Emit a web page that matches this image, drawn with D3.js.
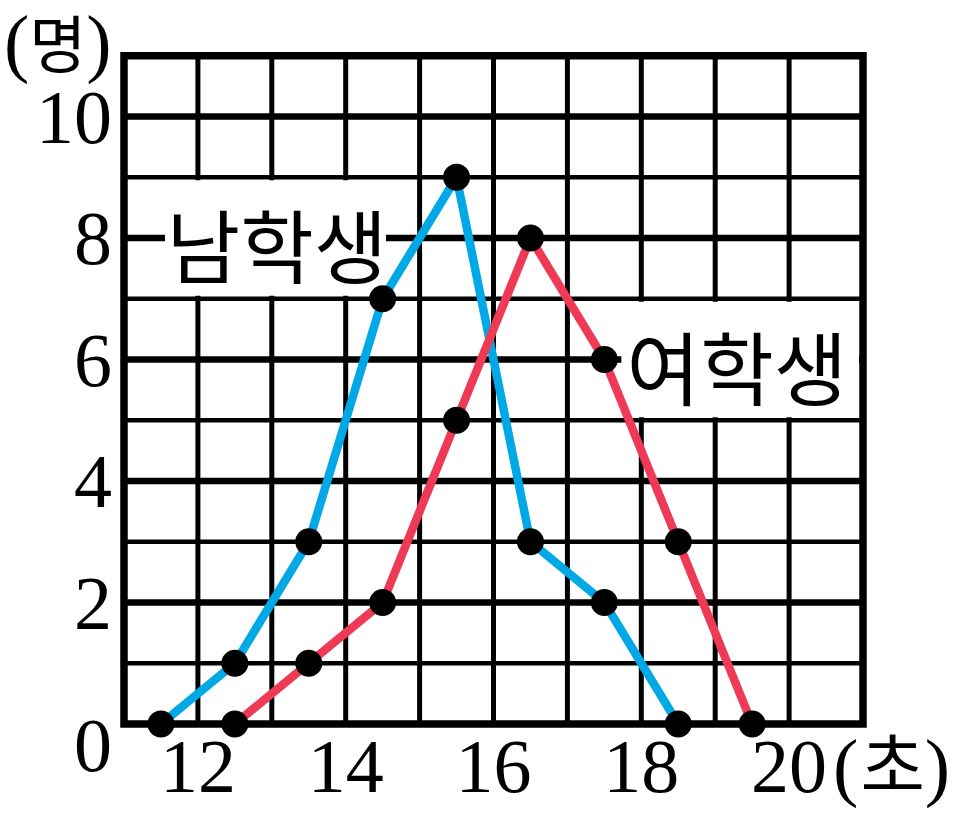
<!DOCTYPE html>
<html>
<head>
<meta charset="utf-8">
<script src="https://cdn.jsdelivr.net/npm/d3@7"></script>
<style>
  html, body { margin: 0; padding: 0; background: #fff; }
  svg { display: block; }
</style>
</head>
<body>
<svg id="chart" width="963" height="821"></svg>
<script>
// ---- data ----
const boysMid = [11.5, 12.5, 13.5, 14.5, 15.5, 16.5, 17.5, 18.5];
const boysCount = [0, 1, 3, 7, 9, 3, 2, 0];
const girlsMid = [12.5, 13.5, 14.5, 15.5, 16.5, 17.5, 18.5, 19.5];
const girlsCount = [0, 1, 2, 5, 8, 6, 3, 0];
const xTickLabels = [12, 14, 16, 18, 20];
const yTickLabels = [0, 2, 4, 6, 8, 10];
const xUnit = "초";
const yUnit = "명";
const boysLabel = "남학생";
const girlsLabel = "여학생";

const BLUE = "#00a9e6";
const RED = "#ef3a55";
const SERIF = "'Liberation Serif', 'DejaVu Serif', serif";
const KR = "'Noto Sans CJK KR', 'Noto Sans CJK SC', sans-serif";

const svg = d3.select("#chart");
const x = d3.scaleLinear().domain([11, 21]).range([124, 863]);
const y = d3.scaleLinear().domain([0, 11]).range([724, 55.75]);

const grid = svg.append("g");
// vertical grid lines
d3.range(12, 21).forEach(v => {
  grid.append("line")
    .attr("x1", x(v)).attr("x2", x(v))
    .attr("y1", y(11)).attr("y2", y(0))
    .attr("stroke", "#000").attr("stroke-width", 5);
});
// horizontal grid lines
d3.range(1, 11).forEach(v => {
  grid.append("line")
    .attr("x1", x(11)).attr("x2", x(21))
    .attr("y1", y(v)).attr("y2", y(v))
    .attr("stroke", "#000").attr("stroke-width", v % 2 === 0 ? 6.5 : 4.5);
});
// frame
grid.append("rect")
  .attr("x", x(11)).attr("y", y(11))
  .attr("width", x(21) - x(11)).attr("height", y(0) - y(11))
  .attr("fill", "none").attr("stroke", "#000").attr("stroke-width", 7.5);

// label backgrounds
svg.append("rect")
  .attr("x", 165).attr("y", y(9) + 3)
  .attr("width", 221).attr("height", y(7) - y(9) - 6)
  .attr("fill", "#fff");
svg.append("rect")
  .attr("x", x(17.5) + 17).attr("y", y(7) + 3)
  .attr("width", x(21) - 4 - (x(17.5) + 17)).attr("height", y(5) - y(7) - 6)
  .attr("fill", "#fff");

svg.append("text")
  .attr("x", 277).attr("y", y(8) + 4)
  .attr("text-anchor", "middle").attr("dominant-baseline", "central")
  .attr("font-family", KR).attr("font-size", 80)
  .attr("fill", "#000")
  .text(boysLabel);
svg.append("text")
  .attr("x", 737).attr("y", y(6) + 4)
  .attr("text-anchor", "middle").attr("dominant-baseline", "central")
  .attr("font-family", KR).attr("font-size", 80)
  .attr("fill", "#000")
  .text(girlsLabel);

// lines
const line = d3.line().x(d => x(d[0])).y(d => y(d[1]));
const boys = boysMid.map((m, i) => [m, boysCount[i]]);
const girls = girlsMid.map((m, i) => [m, girlsCount[i]]);
svg.append("path").attr("d", line(boys))
  .attr("fill", "none").attr("stroke", BLUE).attr("stroke-width", 8.5)
  .attr("stroke-linejoin", "round");
svg.append("path").attr("d", line(girls))
  .attr("fill", "none").attr("stroke", RED).attr("stroke-width", 8.5)
  .attr("stroke-linejoin", "round");

// dots
svg.selectAll("circle.b").data(boys).enter().append("circle")
  .attr("cx", d => x(d[0])).attr("cy", d => y(d[1])).attr("r", 13.5).attr("fill", "#000");
svg.selectAll("circle.g").data(girls).enter().append("circle")
  .attr("cx", d => x(d[0])).attr("cy", d => y(d[1])).attr("r", 13.5).attr("fill", "#000");

// y tick labels
svg.selectAll("text.yt").data(yTickLabels).enter().append("text")
  .attr("x", 112)
  .attr("y", d => d === 0 ? y(0) + 47 : y(d) + 26)
  .attr("text-anchor", "end")
  .attr("font-family", SERIF).attr("font-size", 76).attr("fill", "#000")
  .text(d => d);

// x tick labels
svg.selectAll("text.xt").data(xTickLabels).enter().append("text")
  .attr("x", d => x(d))
  .attr("y", 792)
  .attr("text-anchor", "middle")
  .attr("font-family", SERIF).attr("font-size", 76).attr("fill", "#000")
  .text(d => d);

// x unit
const xu = svg.append("text").attr("x", x(20) + 44).attr("y", 792)
  .attr("font-family", SERIF).attr("font-size", 76).attr("fill", "#000");
xu.append("tspan").text("(");
xu.append("tspan").attr("font-family", KR).attr("font-size", 70).attr("dx", 2).text(xUnit);
xu.append("tspan").text(")");

// y unit
const yu = svg.append("text").attr("x", 4).attr("y", 68)
  .attr("font-family", SERIF).attr("font-size", 76).attr("fill", "#000");
yu.append("tspan").text("(");
yu.append("tspan").attr("font-family", KR).attr("font-size", 62).text(yUnit);
yu.append("tspan").text(")");
</script>
</body>
</html>
